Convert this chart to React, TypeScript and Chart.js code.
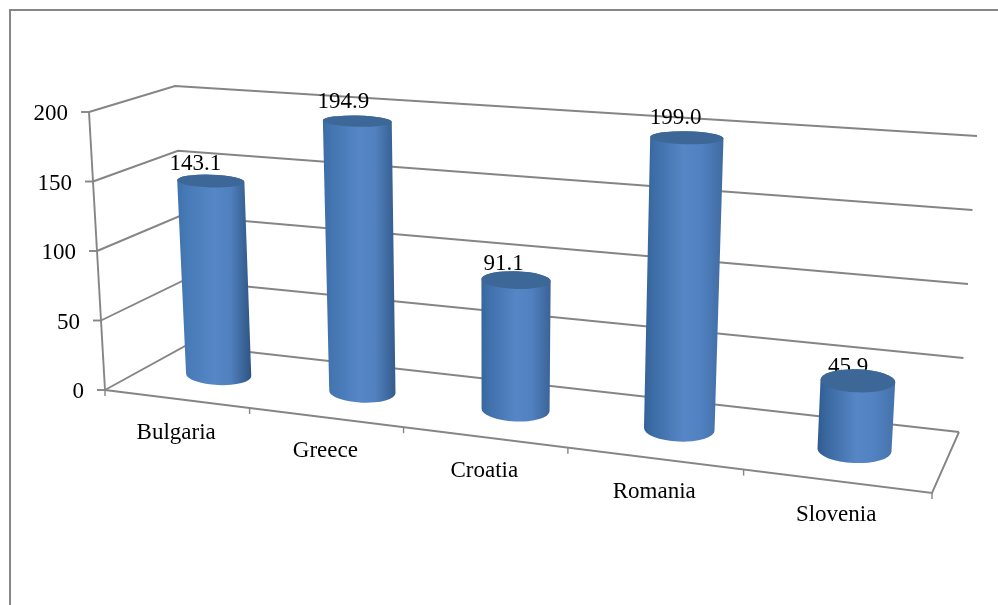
import React, { useEffect, useRef } from "react";
import { Chart, BarController, BarElement, CategoryScale, LinearScale } from "chart.js";

// Chart values
const countries = ["Bulgaria", "Greece", "Croatia", "Romania", "Slovenia"];
const values = [143.1, 194.9, 91.1, 199.0, 45.9];
const axisMax = 200;
const axisStep = 50;

// Screen corners of the 3-D plot box: [x, y]; F/B = front/back, L/R = left/right, B/T = bottom/top
const box = {
  FLB: [105, 390], FLT: [89, 112],
  BLB: [187, 345], BLT: [175, 86],
  FRB: [932, 493], FRT: [951, 175],
  BRB: [959, 432], BRT: [977, 136],
};
const FORESHORTEN = 1.18; // categories on the left recede a little
const DEPTH_RADIUS = 0.22; // cylinder radius as a share of the floor depth
const MID_DEPTH = 0.55;
const CYLINDER_DROP = 1.5; // cylinders stand slightly in front of the depth centre line

const GRID = "#858585";
const TEXT_FONT = '23px "Liberation Serif"';

const lerp = (a: number, b: number, t: number) => a + (b - a) * t;

// Maps plot-box coordinates (u along categories, v up the value axis, w into the page) to the screen
function project(u: number, v: number, w: number): [number, number] {
  const f = u / (u + FORESHORTEN * (1 - u));
  const at = (i: number) => {
    const front = lerp(lerp(box.FLB[i], box.FRB[i], f), lerp(box.FLT[i], box.FRT[i], f), v);
    const back = lerp(lerp(box.BLB[i], box.BRB[i], f), lerp(box.BLT[i], box.BRT[i], f), v);
    return lerp(front, back, w);
  };
  return [at(0), at(1)];
}

function ellipseAt(u: number, v: number, halfU: number) {
  const [cx, cy] = project(u, v, MID_DEPTH);
  const a = project(u - halfU, v, MID_DEPTH);
  const b = project(u + halfU, v, MID_DEPTH);
  const n = project(u, v, MID_DEPTH - DEPTH_RADIUS);
  const g = project(u, v, MID_DEPTH + DEPTH_RADIUS);
  const ex = (b[0] - a[0]) / 2;
  const ey = (b[1] - a[1]) / 2;
  const sx = (n[0] - g[0]) / 2;
  const sy = (n[1] - g[1]) / 2;
  return {
    cx,
    cy: cy + CYLINDER_DROP,
    rx: Math.hypot(ex, sx),
    ry: Math.abs(sy) * (1 - 0.15 * v),
    rot: Math.atan2(ey, ex) * 0.35,
  };
}

function mix(a: number[], b: number[], t: number) {
  const c = a.map((p, i) => Math.round(lerp(p, b[i], t)));
  return `rgb(${c[0]},${c[1]},${c[2]})`;
}

// A bar element that paints itself as an upright cylinder inside the plot box
class CylinderElement extends BarElement {
  static id = "cylinder";

  draw(ctx: CanvasRenderingContext2D) {
    const { x, y, base, width } = this as any;
    const area = (this as any).$area;
    if (!area) return;
    const u = (x - area.left) / area.width;
    const v = (area.bottom - y) / area.height;
    const v0 = (area.bottom - base) / area.height;
    const halfU = width / 2 / area.width;

    const top = ellipseAt(u, v, halfU);
    const bottom = ellipseAt(u, v0, halfU);

    const left = Math.min(top.cx - top.rx, bottom.cx - bottom.rx);
    const right = Math.max(top.cx + top.rx, bottom.cx + bottom.rx);
    const grad = ctx.createLinearGradient(left, 0, right, 0);
    grad.addColorStop(0, mix([66, 117, 176], [46, 88, 140], u));
    grad.addColorStop(0.12, mix([71, 124, 185], [56, 102, 158], u));
    grad.addColorStop(0.5, "rgb(86,134,198)");
    grad.addColorStop(0.72, mix([80, 128, 190], [82, 130, 194], u));
    grad.addColorStop(1, mix([44, 80, 126], [72, 118, 176], u));

    ctx.save();
    ctx.beginPath();
    ctx.ellipse(bottom.cx, bottom.cy, bottom.rx, bottom.ry, bottom.rot, 0, Math.PI);
    ctx.ellipse(top.cx, top.cy, top.rx, top.ry, top.rot, Math.PI, Math.PI * 2);
    ctx.closePath();
    ctx.fillStyle = grad;
    ctx.fill();

    ctx.beginPath();
    ctx.ellipse(top.cx, top.cy, top.rx, top.ry, top.rot, 0, Math.PI * 2);
    ctx.fillStyle = "#3c6796";
    ctx.fill();
    ctx.restore();
  }
}

class CylinderController extends BarController {
  static id = "cylinder";
  static defaults = { dataElementType: "cylinder" };
}

function strokeLine(ctx: CanvasRenderingContext2D, pts: [number, number][], width = 1.9) {
  ctx.beginPath();
  pts.forEach((p, i) => (i ? ctx.lineTo(p[0], p[1]) : ctx.moveTo(p[0], p[1])));
  ctx.lineWidth = width;
  ctx.strokeStyle = GRID;
  ctx.stroke();
}

// Frame, walls, floor, axes and all text sit behind the cylinders
const scenePlugin = {
  id: "scene",
  beforeDatasetsDraw(chart: any) {
    const { ctx, chartArea: area, scales } = chart;
    const yScale = scales.y;
    const xScale = scales.x;
    const toV = (px: number) => (area.bottom - px) / area.height;
    const toU = (px: number) => (px - area.left) / area.width;

    ctx.save();

    // Outer chart frame: top and left edges only run to the page edge
    ctx.beginPath();
    ctx.moveTo(10, chart.height);
    ctx.lineTo(10, 10);
    ctx.lineTo(chart.width, 10);
    ctx.lineWidth = 2;
    ctx.strokeStyle = "#868686";
    ctx.stroke();

    // Gridlines along the side wall and back wall, with value ticks and labels
    ctx.font = TEXT_FONT;
    ctx.fillStyle = "#000";
    for (const tick of yScale.ticks) {
      const v = toV(yScale.getPixelForValue(tick.value));
      const p0 = project(0, v, 0);
      strokeLine(ctx, [p0, project(0, v, 1), project(1, v, 1)]);
      strokeLine(ctx, [[p0[0] - 8, p0[1]], p0]);
      ctx.textAlign = "right";
      ctx.textBaseline = "middle";
      ctx.fillText(String(tick.value), p0[0] - 21, p0[1] + 2);
    }

    // Floor edges and the value axis
    strokeLine(ctx, [project(0, 0, 0), project(1, 0, 0), project(1, 0, 1)]);
    strokeLine(ctx, [project(0, 0, 0), project(0, 1, 0)]);

    // Category separators on the front edge
    const count = countries.length;
    for (let i = 0; i <= count; i++) {
      const p = project(i / count, 0, 0);
      strokeLine(ctx, [p, [p[0], p[1] + 6]], 1.4);
    }

    // Category labels follow the sloping front edge
    ctx.textAlign = "center";
    ctx.textBaseline = "middle";
    countries.forEach((name, i) => {
      const p = project(toU(xScale.getPixelForValue(i)), 0, 0);
      ctx.fillText(name, p[0], p[1] + 34);
    });

    // Value labels, partly tucked behind the cylinder caps
    const meta = chart.getDatasetMeta(0);
    meta.data.forEach((bar: any, i: number) => {
      bar.$area = area;
      const u = toU(bar.x);
      const v = toV(bar.y);
      const p = project(u, v, MID_DEPTH);
      ctx.fillText(values[i].toFixed(1), p[0] - lerp(16, 9, u), p[1] - (11 + 7 * v));
    });

    ctx.restore();
  },
};

Chart.register(CylinderElement, CylinderController, CategoryScale, LinearScale);

export default function App() {
  const ref = useRef<HTMLCanvasElement>(null);

  useEffect(() => {
    document.body.style.margin = "0";
    const chart = new Chart(ref.current!, {
      type: "cylinder" as any,
      data: {
        labels: countries,
        datasets: [{ data: values, barPercentage: 0.4, categoryPercentage: 1 } as any],
      },
      options: {
        responsive: false,
        animation: false,
        devicePixelRatio: 1,
        layout: { padding: 0 },
        events: [],
        clip: false as any,
        plugins: { legend: { display: false }, tooltip: { enabled: false } },
        scales: {
          x: { type: "category", display: false, offset: true },
          y: {
            type: "linear",
            display: false,
            min: 0,
            max: axisMax,
            ticks: { stepSize: axisStep },
          },
        },
      },
      plugins: [scenePlugin],
    } as any);
    return () => chart.destroy();
  }, []);

  return (
    <div style={{ width: 998, height: 605, background: "#fff" }}>
      <canvas ref={ref} width={998} height={605} style={{ display: "block" }} />
    </div>
  );
}
